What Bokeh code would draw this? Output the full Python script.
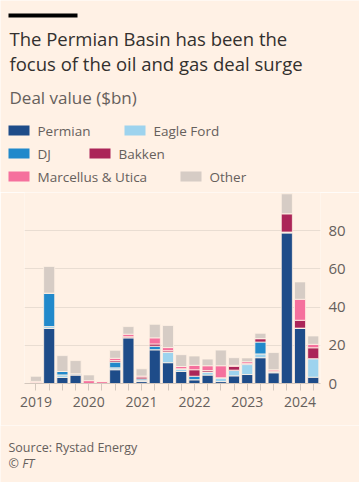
from bokeh.plotting import figure
from bokeh.layouts import column
from bokeh.models import Range1d, FixedTicker, Label, BoxAnnotation
from bokeh.embed import file_html
from bokeh.resources import INLINE

# ---- data (deal value, $bn, by quarter) ----
quarters = ["2019 Q1", "2019 Q2", "2019 Q3", "2019 Q4",
            "2020 Q1", "2020 Q2", "2020 Q3", "2020 Q4",
            "2021 Q1", "2021 Q2", "2021 Q3", "2021 Q4",
            "2022 Q1", "2022 Q2", "2022 Q3", "2022 Q4",
            "2023 Q1", "2023 Q2", "2023 Q3", "2023 Q4",
            "2024 Q1", "2024 Q2"]
year_labels = ["2019", "2020", "2021", "2022", "2023", "2024"]

permian    = [0, 28.8, 3.2, 4.5, 0, 0, 7.2, 24, 1, 17.7, 10.9, 6.3, 2, 4.4, 1, 4, 4.7, 13.5, 5.6, 78.8, 29, 3.3]
eagle_ford = [0.5, 1, 1.3, 0, 0, 0, 1, 0, 0.7, 0, 5.6, 1.4, 0, 1.6, 2, 3, 5.2, 2, 0.6, 0.5, 0, 9.7]
dj         = [0, 17.5, 1.8, 0.6, 0, 0, 3, 0, 0.7, 1.8, 0, 0, 1.8, 0, 0, 0, 0.5, 6.2, 0, 0, 0, 0]
bakken     = [0, 0, 0, 0, 0, 0, 0.8, 0.5, 1, 1.2, 0.7, 0, 3.4, 0.8, 0, 2, 0, 1.8, 0.4, 9.6, 4.1, 5.7]
marcellus  = [0.6, 0, 0, 0, 1.5, 1.0, 1.2, 1.3, 0.5, 3.2, 1.6, 1.2, 2.3, 2.5, 6.3, 0.5, 1, 0, 0.6, 0, 11, 1.8]
other      = [2.7, 14, 8.3, 6.9, 3, 0, 4.2, 4, 3.8, 7.1, 11.6, 6.2, 4.9, 3.5, 8.2, 4, 2, 2.8, 9, 10.4, 9.1, 4.4]

series_names = ["Permian", "Eagle Ford", "DJ", "Bakken", "Marcellus & Utica", "Other"]
series_values = [permian, eagle_ford, dj, bakken, marcellus, other]
colors = ["#1e4c89", "#9dd3ee", "#2189cb", "#ab2558", "#f5709d", "#d6ccc5"]

title_lines = ["The Permian Basin has been the", "focus of the oil and gas deal surge"]
subtitle = "Deal value ($bn)"
source_text = "Source: Rystad Energy"
credit_text = "© FT"

BG = "#fff1e5"
TXT = "#66605c"
DARK = "#33302e"
FONT = "Open Sans"
W = 359


def no_align(f):
    if "frame_align" in f.properties():
        f.frame_align = False


def blank_fig(h):
    f = figure(width=W, height=h, output_backend="svg", toolbar_location=None,
               x_range=Range1d(0, W), y_range=Range1d(0, h),
               x_axis_location=None, y_axis_location=None,
               min_border=0,
               min_border_left=0, min_border_right=0, min_border_top=0, min_border_bottom=0)
    f.background_fill_color = BG
    f.border_fill_color = BG
    f.outline_line_color = None
    f.grid.visible = False
    no_align(f)
    return f


def lab(f, x, y, t, size, color, style="normal"):
    f.add_layout(Label(x=x, y=y, x_units="canvas", y_units="canvas", text=t,
                       text_font=FONT, text_font_size=size, text_color=color,
                       text_baseline="alphabetic", text_align="left",
                       text_font_style=style))


def box(f, l, r, t, b, c):
    f.add_layout(BoxAnnotation(left=l, right=r, top=t, bottom=b,
                               left_units="canvas", right_units="canvas",
                               top_units="canvas", bottom_units="canvas",
                               fill_color=c, fill_alpha=1, line_color=None))


# ---- header ----
head = blank_fig(192)
box(head, 8, 77, 13, 17, "#000000")
lab(head, 9, 38, title_lines[0], "18.5px", DARK)
lab(head, 9, 63, title_lines[1], "18.5px", DARK)
lab(head, 9, 97, subtitle, "17px", TXT)

legend_pos = [(8, 130), (124, 130), (8, 153), (89, 153), (8, 176), (180, 176)]
for si, (lx, ly) in enumerate(legend_pos):
    box(head, lx, lx + 21, ly - 5, ly + 5, colors[si])
    lab(head, lx + 29, ly + 0.5, series_names[si], "13.5px", TXT)

# ---- chart ----
x_idx = list(range(len(quarters)))
p = figure(width=W, height=233, output_backend="svg", toolbar_location=None,
           x_range=Range1d(-0.87, 21.55), y_range=Range1d(0, 100),
           min_border_left=24, min_border_right=39, min_border_top=0,
           min_border_bottom=42, y_axis_location="right")
p.background_fill_color = BG
p.border_fill_color = BG
p.outline_line_color = None
no_align(p)

data = {"x": x_idx}
keys = []
for i, v in enumerate(series_values):
    k = "s%d" % i
    data[k] = v
    keys.append(k)
p.vbar_stack(keys, x="x", width=0.84, color=colors, source=data,
             line_color=BG, line_width=0.8)

p.xgrid.visible = False
p.ygrid.ticker = FixedTicker(ticks=[20, 40, 60, 80])
p.ygrid.grid_line_color = "#e9ddd2"

ya = p.yaxis[0]
ya.ticker = FixedTicker(ticks=[0, 20, 40, 60, 80])
ya.axis_line_color = None
ya.major_tick_line_color = None
ya.minor_tick_line_color = None
ya.major_label_standoff = 2
ya.major_label_text_font = FONT
ya.major_label_text_font_size = "15px"
ya.major_label_text_color = TXT

xa = p.xaxis[0]
xa.ticker = FixedTicker(ticks=x_idx)
xa.major_label_overrides = {i: (year_labels[i // 4] if i % 4 == 0 else "") for i in x_idx}
xa.axis_line_color = "#d3c7bd"
xa.major_tick_line_color = "#d3c7bd"
xa.major_tick_out = 7
xa.major_tick_in = 0
xa.minor_tick_line_color = None
xa.major_label_standoff = 6
xa.major_label_text_font = FONT
xa.major_label_text_font_size = "14px"
xa.major_label_text_color = TXT

# ---- footer ----
foot = blank_fig(57)
lab(foot, 8, 22, source_text, "12.5px", TXT)
lab(foot, 8, 38, credit_text, "12.5px", TXT, "italic")

layout = column(head, p, foot, spacing=0)
html = file_html(layout, INLINE)
open("out.html", "w").write(html)
